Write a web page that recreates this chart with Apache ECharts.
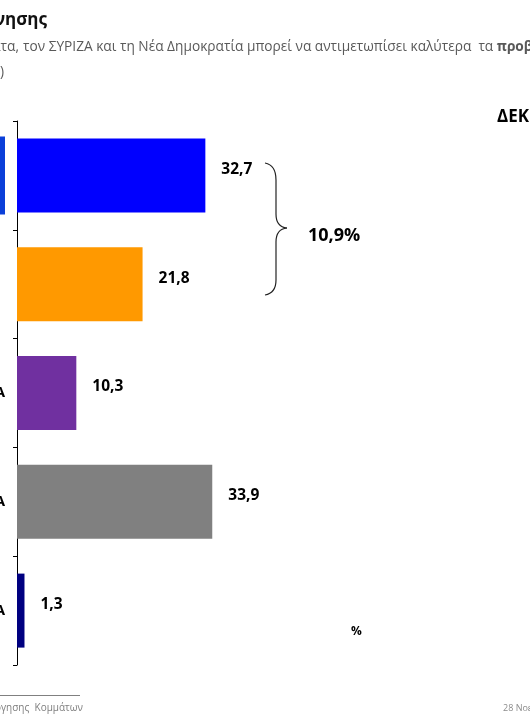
<!DOCTYPE html>
<html>
<head>
<meta charset="utf-8">
<script src="https://cdn.jsdelivr.net/npm/echarts@6/dist/echarts.min.js"></script>
<style>
html,body{margin:0;padding:0;background:#fff;}
#chart{width:530px;height:720px;}
</style>
</head>
<body>
<div id="chart"></div>
<script>
// ---- data ----
const categories = ['ΝΕΑ ΔΗΜΟΚΡΑΤΙΑ', 'ΣΥΡΙΖΑ', 'ΚΑΝΕΝΑ', 'ΔΓ/ΔΑ', 'ΑΛΛΟ ΚΟΜΜΑ'];
const values = [32.7, 21.8, 10.3, 33.9, 1.3];
const barColors = ['#0000FF', '#FF9900', '#7030A0', '#808080', '#000080'];
const gapLabel = '10,9%';
const titleText = 'Ικανότητα διακυβέρνησης';
const subtitlePre = 'Ποιο από τα δύο κόμματα,';
const subtitleMain = 'τον ΣΥΡΙΖΑ και τη Νέα Δημοκρατία μπορεί να αντιμετωπίσει καλύτερα  τα ';
const subtitleBold = 'προβλήματα της χώρας';
const monthText = 'ΔΕΚΕΜΒΡΙΟΣ 2018';
const footerLeft = 'Έρευνα Αξιολόγησης  Κομμάτων';
const footerRight = '28 Νοεμβρίου 2018';

const FONT = '"Open Sans", "Noto Sans", sans-serif';
const chart = echarts.init(document.getElementById('chart'));

function fmt(v){ return v.toFixed(1).replace('.', ','); }

const braceStyle = { fill: 'none', stroke: '#222', lineWidth: 1.2 };

chart.setOption({
  animation: false,
  grid: { left: 17, width: 345.6, top: 121, bottom: 55, outerBoundsMode: 'none' },
  xAxis: { type: 'value', min: 0, max: 60, show: false },
  yAxis: {
    type: 'category', data: categories, inverse: true,
    axisLine: { show: true, lineStyle: { color: '#000', width: 1 } },
    axisTick: { show: true, length: 4, lineStyle: { color: '#000' } },
    axisLabel: {
      margin: 12, fontFamily: FONT, fontWeight: 'bold', fontSize: 15, color: '#000',
      formatter: function (v, i) {
        if (i === 0) return '{logo|}';
        if (i === 1) return '{blank|}';
        return v;
      },
      rich: {
        logo: { width: 60, height: 78, backgroundColor: '#0B3FD9' },
        blank: { width: 60, height: 78 }
      }
    }
  },
  series: [{
    type: 'bar',
    data: values.map((v, i) => ({ value: v, itemStyle: { color: barColors[i] } })),
    barWidth: 74,
    label: {
      show: true, position: 'right', distance: 16, offset: [0, -6],
      fontFamily: FONT, fontWeight: 'bold', fontSize: 15.5, color: '#000',
      formatter: p => fmt(p.value)
    }
  }],
  graphic: [
    { type: 'text', x: 47, y: 20, style: { text: titleText, font: 'bold 17px ' + FONT, fill: '#111', align: 'right', verticalAlign: 'middle' } },
    { type: 'text', x: 19, y: 47, style: { text: subtitlePre, font: '13.7px ' + FONT, fill: '#595959', align: 'right', verticalAlign: 'middle' } },
    { type: 'text', x: 23, y: 47, style: {
        text: '{n|' + subtitleMain + '}{b|' + subtitleBold + '}',
        verticalAlign: 'middle',
        rich: { n: { font: '13.7px ' + FONT, fill: '#595959' }, b: { font: 'bold 13.7px ' + FONT, fill: '#595959' } }
    } },
    { type: 'text', x: 4, y: 72, style: { text: '(%)', font: '13.7px ' + FONT, fill: '#595959', align: 'right', verticalAlign: 'middle' } },
    { type: 'text', x: 497, y: 117, style: { text: monthText, font: 'bold 17px ' + FONT, fill: '#000', verticalAlign: 'middle' } },
    { type: 'bezierCurve', shape: { x1: 265, y1: 163, cpx1: 276, cpy1: 165, x2: 276, y2: 180 }, style: braceStyle },
    { type: 'line', shape: { x1: 276, y1: 180, x2: 276, y2: 214 }, style: braceStyle },
    { type: 'bezierCurve', shape: { x1: 276, y1: 214, cpx1: 276, cpy1: 227, x2: 287, y2: 228 }, style: braceStyle },
    { type: 'bezierCurve', shape: { x1: 287, y1: 228, cpx1: 276, cpy1: 229, x2: 276, y2: 242 }, style: braceStyle },
    { type: 'line', shape: { x1: 276, y1: 242, x2: 276, y2: 280 }, style: braceStyle },
    { type: 'bezierCurve', shape: { x1: 276, y1: 280, cpx1: 276, cpy1: 293, x2: 265, y2: 295 }, style: braceStyle },
    { type: 'text', x: 308, y: 236, style: { text: gapLabel, font: 'bold 18px ' + FONT, fill: '#000', verticalAlign: 'middle' } },
    { type: 'text', x: 351, y: 632, style: { text: '%', font: 'bold 12px ' + FONT, fill: '#000', verticalAlign: 'middle' } },
    { type: 'line', shape: { x1: 0, y1: 695.5, x2: 80, y2: 695.5 }, style: { stroke: '#808080', lineWidth: 1 } },
    { type: 'text', x: 83, y: 708, style: { text: footerLeft, font: '10px ' + FONT, fill: '#7f7f7f', align: 'right', verticalAlign: 'middle' } },
    { type: 'text', x: 503, y: 708, style: { text: footerRight, font: '9px ' + FONT, fill: '#8c8c8c', verticalAlign: 'middle' } }
  ]
});
</script>
</body>
</html>
